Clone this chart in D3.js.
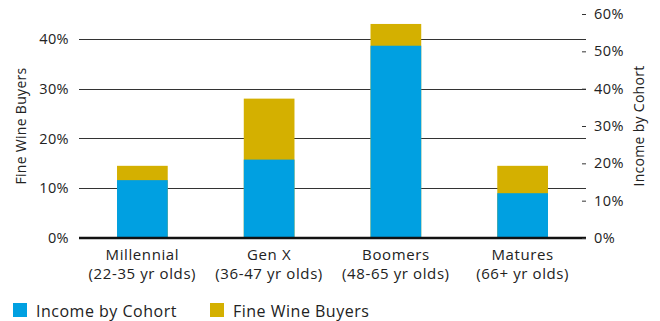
<!DOCTYPE html>
<html><head><meta charset="utf-8">
<script src="https://cdn.jsdelivr.net/npm/d3@7"></script>
<style>
body{margin:0;background:#fff;}
text{font-family:"Open Sans",sans-serif;fill:#222;}
</style></head>
<body><svg id="c" width="660" height="321"></svg>
<script>
const categories = ["Millennial|(22-35 yr olds)","Gen X|(36-47 yr olds)","Boomers|(48-65 yr olds)","Matures|(66+ yr olds)"];
const fineWineBuyers = [0.145, 0.28, 0.43, 0.145];
const incomeByCohort = [0.155, 0.21, 0.515, 0.12];
const leftTicks = [0, 0.1, 0.2, 0.3, 0.4];
const rightTicks = [0, 0.1, 0.2, 0.3, 0.4, 0.5, 0.6];
const seriesNames = ["Income by Cohort","Fine Wine Buyers"];
const colors = ["#00A0E1","#D4B000"];

const svg = d3.select("#c");
const L = 79, R = 586, T = 14, B = 238;
const x = d3.scaleBand().domain(categories).range([L, R]).paddingInner(0.6).paddingOuter(0.3);
const yL = d3.scaleLinear().domain([0, 0.45]).range([B, T]);
const yR = d3.scaleLinear().domain([0, 0.6]).range([B, T]);
const pct = d3.format(".0%");

// gridlines
svg.append("g").selectAll("line").data(leftTicks.filter(d=>d>0)).join("line")
  .attr("x1", L).attr("x2", R).attr("y1", d=>Math.round(yL(d))+0.5).attr("y2", d=>Math.round(yL(d))+0.5)
  .attr("stroke", "#333").attr("stroke-width", 1);

// bars: fine wine (left axis) behind, income (right axis) in front
svg.append("g").selectAll("rect").data(categories).join("rect")
  .attr("x", d=>x(d)).attr("width", x.bandwidth())
  .attr("y", (d,i)=>yL(fineWineBuyers[i])).attr("height", (d,i)=>B-yL(fineWineBuyers[i]))
  .attr("fill", colors[1]);
svg.append("g").selectAll("rect").data(categories).join("rect")
  .attr("x", d=>x(d)).attr("width", x.bandwidth())
  .attr("y", (d,i)=>yR(incomeByCohort[i])).attr("height", (d,i)=>B-yR(incomeByCohort[i]))
  .attr("fill", colors[0]);

// baseline
svg.append("line").attr("x1", L).attr("x2", R).attr("y1", B).attr("y2", B)
  .attr("stroke", "#111").attr("stroke-width", 2.5);

// left axis
const la = svg.append("g").attr("transform", `translate(${L},0)`)
  .call(d3.axisLeft(yL).tickValues(leftTicks).tickFormat(pct).tickSize(0).tickPadding(10));
la.select(".domain").remove();
la.selectAll("text").style("font-size","14.5px").style("letter-spacing","0.4px").attr("fill","#222");

// right axis
const ra = svg.append("g").attr("transform", `translate(${R},0)`)
  .call(d3.axisRight(yR).tickValues(rightTicks).tickFormat(pct).tickSize(0).tickPadding(8));
ra.select(".domain").remove();
ra.selectAll(".tick").append("line").attr("x1", -4).attr("x2", 0).attr("stroke","#333");
ra.selectAll("text").style("font-size","14.5px").style("letter-spacing","0.4px").attr("fill","#222");

// x labels
const xg = svg.append("g").selectAll("text").data(categories).join("text")
  .attr("x", d=>x(d)+x.bandwidth()/2).attr("y", 260).attr("text-anchor","middle")
  .style("font-size","15px").style("letter-spacing","0.6px");
xg.each(function(d){
  const parts = d.split("|");
  const t = d3.select(this);
  t.append("tspan").attr("x", x(d)+x.bandwidth()/2).attr("dy", 0).text(parts[0]);
  t.append("tspan").attr("x", x(d)+x.bandwidth()/2).attr("dy", 19).text(parts[1]);
});

// axis titles
svg.append("text").attr("transform", `translate(26,${(T+B)/2}) rotate(-90)`).attr("text-anchor","middle")
  .style("font-size","14px").style("letter-spacing","0.3px").text("Fine Wine Buyers");
svg.append("text").attr("transform", `translate(644,${(T+B)/2}) rotate(-90)`).attr("text-anchor","middle")
  .style("font-size","14px").style("letter-spacing","0.3px").text("Income by Cohort");

// legend
const lx = [13, 210];
const lg = svg.append("g").selectAll("g").data(seriesNames).join("g")
  .attr("transform", (d,i)=>`translate(${lx[i]},303)`);
lg.append("rect").attr("width",14).attr("height",14).attr("fill",(d,i)=>colors[i]);
lg.append("text").attr("x",23).attr("y",14).style("font-size","16px").style("letter-spacing","0.5px").text(d=>d);
</script></body></html>
